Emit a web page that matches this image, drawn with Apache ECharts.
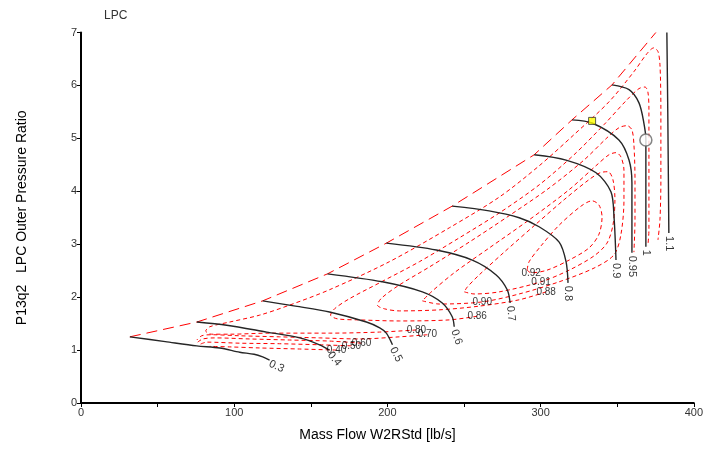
<!DOCTYPE html>
<html><head><meta charset="utf-8">
<script src="https://cdn.jsdelivr.net/npm/echarts@6/dist/echarts.min.js"></script>
<style>html,body{margin:0;padding:0;background:#fff}#c{width:706px;height:449px}</style>
</head><body><div id="c"></div>
<script>
// ---- speed lines (corrected speed), [mass flow, pressure ratio]
const speedNames = ['0.3','0.4','0.5','0.6','0.7','0.8','0.9','0.95','1','1.1'];
const speed03  = [[31.9,1.25],[55,1.16],[75.6,1.08],[90.6,1.04],[103.6,0.96],[113,0.92],[118.6,0.87],[123.1,0.81]];
const speed04  = [[75.6,1.53],[95.1,1.47],[121.2,1.34],[142.7,1.23],[155.7,1.10],[162.2,1.00]];
const speed05  = [[118.6,1.93],[140,1.83],[162.2,1.72],[186.3,1.53],[195,1.42],[199.3,1.32],[203.3,1.10]];
const speed06  = [[160.9,2.44],[196.7,2.29],[222.8,2.10],[235.8,1.89],[242.3,1.63],[243.6,1.44]];
const speed07  = [[199.3,3.02],[231.9,2.89],[255.4,2.70],[271.0,2.42],[278.2,2.14],[280.1,1.89]];
const speed08  = [[242.3,3.72],[266.4,3.63],[286.0,3.50],[299.0,3.33],[312.1,3.04],[316.6,2.67],[317.9,2.27]];
const speed09  = [[295.8,4.69],[316.6,4.59],[336.2,4.35],[345.9,3.99],[347.9,3.52],[349.2,2.70]];
const speed095 = [[320.5,5.35],[333.6,5.29],[351.1,4.97],[357.7,4.59],[359.6,4.16],[359.6,2.84]];
const speed10  = [[346.6,6.01],[357.7,5.92],[364.2,5.67],[367.4,5.29],[368.7,4.97],[368.7,2.95]];
const speed11  = [[382.4,7.0],[383.0,5.5],[383.7,3.21]];
const speedLines = [speed03,speed04,speed05,speed06,speed07,speed08,speed09,speed095,speed10,speed11];

// ---- surge line
const surge = [[31.9,1.25],[75.6,1.53],[118.6,1.93],[160.9,2.44],[199.3,3.02],[242.3,3.72],[295.8,4.69],[320.5,5.35],[346.6,6.01],[375.2,7.0]];

// ---- efficiency contours
const effNames = ['0.40','0.50','0.60','0.70','0.80','0.86','0.88','0.90','0.91','0.92'];
const eff040 = [[166.8,1.00],[142.7,1.02],[116.6,1.04],[97.1,1.06],[84.0,1.07]];
const eff050 = [[176.5,1.08],[155.7,1.10],[129.6,1.12],[103.6,1.13],[82.1,1.15],[77.8,1.11]];
const eff060 = [[183.1,1.13],[162.2,1.17],[136.2,1.19],[110.1,1.21],[87.3,1.23],[79.5,1.21],[76.2,1.15]];
const eff070 = [[226.1,1.29],[207.8,1.25],[181.8,1.21],[155.7,1.23],[129.6,1.25],[103.6,1.27],[85.3,1.29],[78.8,1.27],[75.6,1.19]];
const eff080 = [[218.9,1.38],[194.8,1.34],[162.2,1.32],[123.1,1.32],[97.1,1.30],[85.3,1.30],[81.4,1.36],[84.0,1.44],[97.1,1.53],[116.6,1.66],[136.2,1.85],[162.2,2.14],[201.3,2.67],[240.4,3.31],[273.0,3.89],[299.0,4.48],[321.8,5.07],[344.6,5.69],[360.9,6.26],[369.4,6.60],[373.9,6.71],[376.6,6.64],[377.9,6.39],[378.5,5.54],[378.5,4.22],[377.9,3.46],[376.6,3.08]];
const eff086 = [[258.6,1.64],[240.4,1.57],[207.8,1.55],[181.8,1.57],[167.4,1.59],[162.9,1.66],[165.5,1.78],[175.2,1.97],[194.8,2.27],[220.9,2.67],[246.9,3.12],[273.0,3.59],[299.0,4.12],[321.8,4.69],[341.4,5.26],[356.4,5.73],[364.2,5.94],[368.1,5.97],[370.0,5.88],[370.7,5.54],[370.7,4.22],[370.7,3.27],[370.0,2.97]];
const eff088 = [[303.6,2.10],[286.0,1.95],[259.9,1.83],[233.9,1.76],[207.8,1.74],[198.0,1.78],[193.5,1.85],[196.1,1.98],[207.8,2.23],[227.4,2.57],[253.4,3.04],[279.5,3.54],[305.5,4.06],[328.3,4.59],[343.3,5.01],[351.1,5.20],[356.4,5.24],[359.6,5.16],[360.9,4.88],[361.6,4.22],[361.6,3.46],[360.9,2.85]];
const eff090 = [[222.8,1.93],[233.9,1.87],[261.9,1.91],[286.0,2.06],[312.1,2.29],[334.9,2.55],[347.9,2.80],[352.4,3.18],[354.4,3.84],[354.4,4.40],[352.4,4.65],[349.2,4.73],[344.6,4.69],[336.8,4.50],[318.6,4.03],[292.5,3.46],[266.5,2.93],[243.6,2.46],[228.7,2.10],[222.8,1.93]];
const eff091 = [[250.2,2.10],[256.7,2.06],[273.0,2.10],[300.3,2.29],[318.6,2.51],[334.9,2.78],[343.3,3.02],[347.2,3.36],[348.5,3.84],[347.2,4.22],[344.0,4.37],[338.8,4.35],[331.6,4.22],[315.3,3.84],[295.8,3.35],[276.2,2.85],[259.9,2.42],[252.1,2.19],[250.2,2.10]];
const eff092 = [[291.2,2.51],[293.8,2.46],[304.2,2.51],[318.6,2.70],[331.6,2.93],[338.1,3.19],[340.1,3.52],[338.1,3.74],[333.6,3.82],[326.4,3.72],[312.1,3.36],[300.3,2.97],[292.5,2.67],[291.2,2.51]];
const effLines = [eff040,eff050,eff060,eff070,eff080,eff086,eff088,eff090,eff091,eff092];
const effLabelVertex = [0,0,0,0,0,0,0,2,3,1];

// ---- operating points
const pointSquare = [[333.6,5.33]];
const pointCircle = [[368.7,4.97]];

// ---- axes
const xMin = 0, xMax = 400, xTickStep = 50, xLabelStep = 100;
const yMin = 0, yMax = 7, yTickStep = 1;

// style only
const speedLabelRotate = [-25,-50,-62,-72,-84,-90,-90,-90,-90,-90];
const FONT = 'Liberation Sans, Arial, sans-serif';

const chart = echarts.init(document.getElementById('c'), null, {renderer:'canvas'});
const series = [];

effLines.forEach((d,i) => {
  series.push({
    type:'line', data:d, showSymbol:false, smooth:0.3, silent:true, z:2,
    lineStyle:{color:'#ff0000', width:1, type:[4,3]}
  });
});
series.push({
  type:'line', data:surge, showSymbol:false, silent:true, z:3,
  lineStyle:{color:'#ff0000', width:1, type:[11,6]}
});
speedLines.forEach((d,i) => {
  series.push({
    type:'line', data:d, showSymbol:false, smooth:0.3, silent:true, z:4,
    lineStyle:{color:'#262626', width:1.4}
  });
});
// speed labels at the line ends
series.push({
  type:'scatter', symbolSize:0, silent:true, z:6,
  data: speedLines.map((d,i) => ({
    value: d[d.length-1],
    label:{show:true, formatter: speedNames[i], rotate: speedLabelRotate[i],
      position:'bottom', distance:3, align:'left', verticalAlign:'middle',
      color:'#000', fontSize:11, fontFamily:FONT}
  }))
});
// efficiency labels on contours
series.push({
  type:'scatter', symbolSize:0, silent:true, z:6,
  data: effLines.map((d,i) => ({
    value: d[effLabelVertex[i]],
    label:{show:true, formatter: effNames[i], position:'inside',
      color:'#000', fontSize:10, fontFamily:FONT}
  }))
});
series.push({
  type:'scatter', data:pointSquare, symbol:'rect', symbolSize:7, z:8, silent:true,
  itemStyle:{color:'#ffff00', borderColor:'#333', borderWidth:1}
});
series.push({
  type:'scatter', data:pointCircle, symbol:'circle', symbolSize:12, z:8, silent:true,
  itemStyle:{color:'#ffffff', borderColor:'#666', borderWidth:1.5}
});

chart.setOption({
  animation:false,
  backgroundColor:'#fff',
  textStyle:{fontFamily:FONT},
  title:{text:'LPC', left:99, top:5, textStyle:{fontSize:12, fontWeight:'normal', color:'#333', fontFamily:FONT}},
  grid:{left:81, right:11, top:32.5, bottom:46, containLabel:false},
  xAxis:{
    type:'value', min:xMin, max:xMax, interval:xTickStep,
    name:'Mass Flow W2RStd [lb/s]', nameLocation:'middle', nameGap:25,
    nameTextStyle:{fontSize:14, color:'#000', fontFamily:FONT, padding:[0,20,0,0]},
    axisLine:{show:true, onZero:false, lineStyle:{color:'#000', width:2}},
    axisTick:{show:true, length:4, lineStyle:{color:'#000', width:1}},
    axisLabel:{color:'#333', fontSize:11, margin:4, fontFamily:FONT,
      formatter: v => (v % xLabelStep === 0 ? String(v) : '')},
    splitLine:{show:false}
  },
  yAxis:{
    type:'value', min:yMin, max:yMax, interval:yTickStep,
    name:'P13q2   LPC Outer Pressure Ratio', nameLocation:'middle', nameGap:52,
    nameTextStyle:{fontSize:14, color:'#000', fontFamily:FONT},
    axisLine:{show:true, onZero:false, lineStyle:{color:'#000', width:2}},
    axisTick:{show:true, length:4, lineStyle:{color:'#000', width:1}},
    axisLabel:{color:'#333', fontSize:11, margin:4, fontFamily:FONT},
    splitLine:{show:false}
  },
  series: series
});
</script></body></html>
